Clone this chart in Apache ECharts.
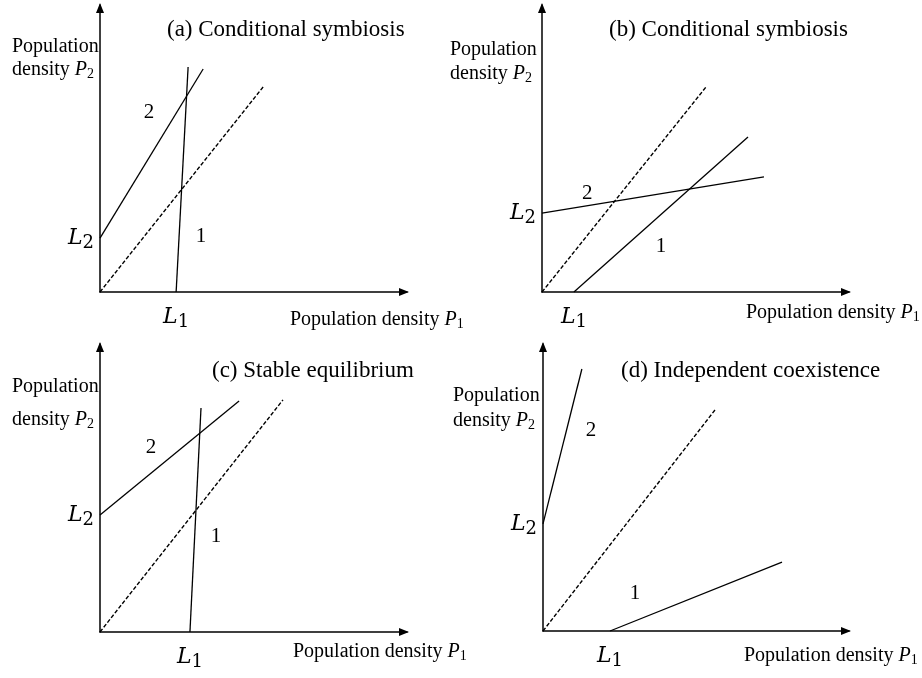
<!DOCTYPE html>
<html>
<head>
<meta charset="utf-8">
<script src="https://cdn.jsdelivr.net/npm/echarts@6/dist/echarts.min.js"></script>
<style>
  html, body { margin: 0; padding: 0; background: #fff; }
  #main { width: 922px; height: 678px; }
</style>
</head>
<body>
<div id="main"></div>
<script>
// values, axis units 0..10 in every panel
var panelTitles = ['(a) Conditional symbiosis', '(b) Conditional symbiosis',
                   '(c) Stable equilibrium', '(d) Independent coexistence'];
// isocline 1 (starts at L1 on the P1 axis)
var curve1 = [
    [[2.48, 0], [2.87, 7.84]],
    [[1.04, 0], [6.71, 5.40]],
    [[2.93, 0], [3.29, 7.78]],
    [[2.19, 0], [7.81, 2.40]]
];
// isocline 2 (starts at L2 on the P2 axis)
var curve2 = [
    [[0, 1.88], [3.36, 7.77]],
    [[0, 2.75], [7.23, 4.01]],
    [[0, 4.06], [4.53, 8.02]],
    [[0, 3.73], [1.27, 9.13]]
];
// dashed reference line from the origin
var diagonal = [
    [[0, 0], [5.34, 7.18]],
    [[0, 0], [5.34, 7.14]],
    [[0, 0], [5.96, 8.06]],
    [[0, 0], [5.62, 7.70]]
];
// where the "1" and "2" tags sit
var tag1 = [[3.29, 1.92], [3.88, 1.57], [3.78, 3.33], [3.01, 1.29]];
var tag2 = [[1.60, 6.24], [1.47, 3.45], [1.66, 6.42], [1.57, 7.00]];

var myChart = echarts.init(document.getElementById('main'));

var serif = 'Liberation Serif';
var grids = [
    {left: 100, top: 5, width: 307, height: 287},
    {left: 542, top: 5, width: 307, height: 287},
    {left: 100, top: 344, width: 307, height: 288},
    {left: 543, top: 344, width: 306, height: 287}
];

var mathRich = {
    l: {fontFamily: 'DejaVu Serif', fontStyle: 'italic', fontSize: 22, color: '#000', lineHeight: 28},
    s1: {fontFamily: 'DejaVu Serif', fontSize: 18, color: '#000', lineHeight: 28, padding: [10, 0, 0, 0]}
};
var textRich = {
    t: {fontFamily: serif, fontSize: 20, color: '#000'},
    i: {fontFamily: serif, fontSize: 20, fontStyle: 'italic', color: '#000'},
    s: {fontFamily: serif, fontSize: 14, color: '#000', padding: [8, 0, 0, 0]}
};

var axisLine = {
    symbol: ['none', 'triangle'],
    symbolSize: [8, 10],
    symbolOffset: [0, -3],
    lineStyle: {color: '#000', width: 1.5}
};

var xAxes = [], yAxes = [], series = [];
for (var i = 0; i < 4; i++) {
    xAxes.push({
        gridIndex: i, type: 'value', min: 0, max: 10,
        axisLine: axisLine,
        axisTick: {show: false},
        splitLine: {show: false},
        axisLabel: {
            customValues: [curve1[i][0][0]],
            formatter: function () { return '{l|L}{s1|1}'; },
            rich: mathRich,
            margin: 11
        }
    });
    yAxes.push({
        gridIndex: i, type: 'value', min: 0, max: 10,
        axisLine: axisLine,
        axisTick: {show: false},
        splitLine: {show: false},
        axisLabel: {
            customValues: [curve2[i][0][1]],
            formatter: function () { return '{l|L}{s1|2}'; },
            rich: mathRich,
            margin: 6
        }
    });
    series.push({
        type: 'line', xAxisIndex: i, yAxisIndex: i, data: curve1[i],
        showSymbol: false, silent: true,
        lineStyle: {color: '#000', width: 1.3}
    });
    series.push({
        type: 'line', xAxisIndex: i, yAxisIndex: i, data: curve2[i],
        showSymbol: false, silent: true,
        lineStyle: {color: '#000', width: 1.3}
    });
    series.push({
        type: 'line', xAxisIndex: i, yAxisIndex: i, data: diagonal[i],
        showSymbol: false, silent: true,
        lineStyle: {color: '#000', width: 1.4, type: [4, 2]}
    });
    series.push({
        type: 'scatter', xAxisIndex: i, yAxisIndex: i,
        data: [{value: tag1[i], name: '1'}, {value: tag2[i], name: '2'}],
        symbolSize: 0, silent: true,
        itemStyle: {color: '#000', opacity: 1},
        label: {show: true, position: 'inside', formatter: '{b}',
                fontFamily: serif, fontSize: 21, color: '#000',
                opacity: 1, textBorderWidth: 0}
    });
}

function txt(x, y, text) {
    return {
        type: 'text', x: x, y: y, silent: true,
        style: {
            text: text, rich: textRich,
            fontFamily: serif, fontSize: 20, fill: '#000',
            align: 'left', verticalAlign: 'middle'
        }
    };
}
function title(x, y, text) {
    return {
        type: 'text', x: x, y: y, silent: true,
        style: {text: text, fontFamily: serif, fontSize: 23, fill: '#000',
                align: 'left', verticalAlign: 'middle'}
    };
}

var graphic = [
    title(167, 30, panelTitles[0]),
    title(609, 30, panelTitles[1]),
    title(212, 371, panelTitles[2]),
    title(621, 371, panelTitles[3]),
    txt(12, 47, '{t|Population}'),
    txt(12, 70, '{t|density }{i|P}{s|2}'),
    txt(450, 50, '{t|Population}'),
    txt(450, 74, '{t|density }{i|P}{s|2}'),
    txt(12, 387, '{t|Population}'),
    txt(12, 420, '{t|density }{i|P}{s|2}'),
    txt(453, 396, '{t|Population}'),
    txt(453, 421, '{t|density }{i|P}{s|2}'),
    txt(290, 320, '{t|Population density }{i|P}{s|1}'),
    txt(746, 313, '{t|Population density }{i|P}{s|1}'),
    txt(293, 652, '{t|Population density }{i|P}{s|1}'),
    txt(744, 656, '{t|Population density }{i|P}{s|1}')
];

myChart.setOption({
    backgroundColor: '#fff',
    animation: false,
    grid: grids,
    xAxis: xAxes,
    yAxis: yAxes,
    series: series,
    graphic: graphic
});
</script>
</body>
</html>
